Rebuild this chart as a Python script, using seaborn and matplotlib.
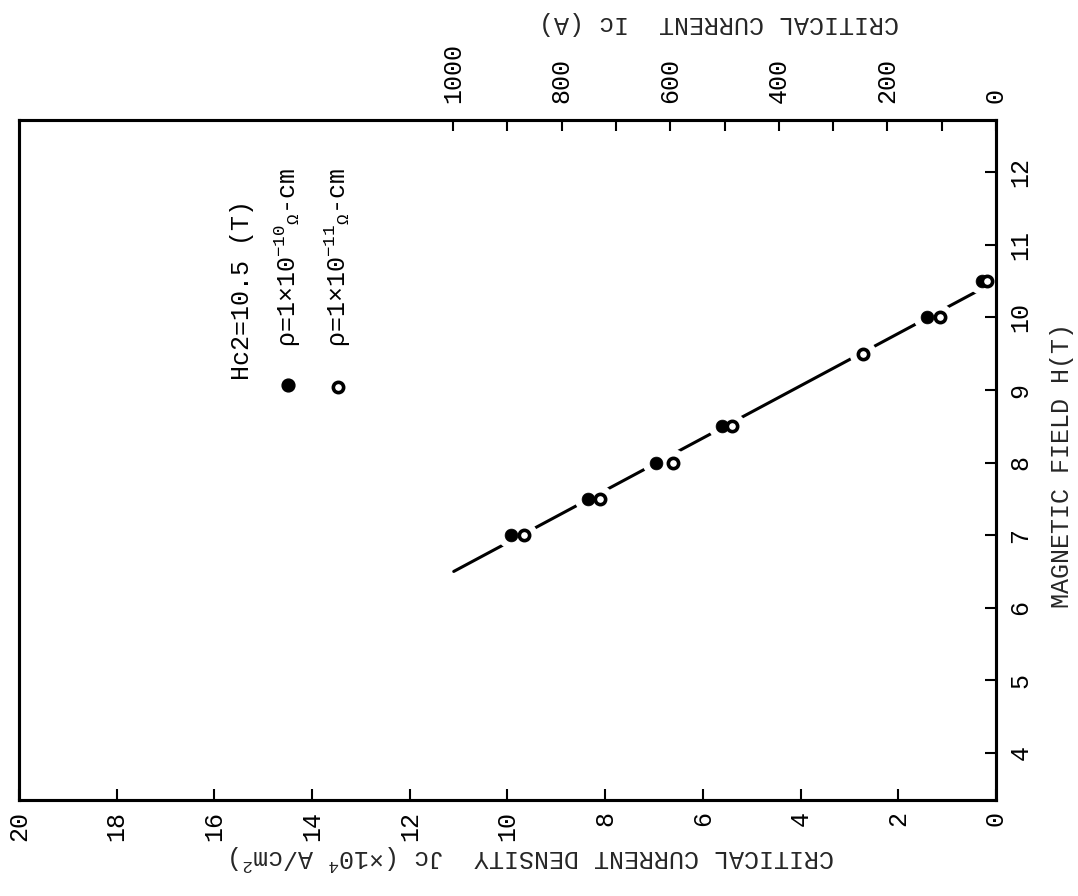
import matplotlib
matplotlib.use("Agg")
import matplotlib.pyplot as plt
import seaborn as sns

# --- DATA
h_filled = [7.0, 7.5, 8.0, 8.5, 10.0, 10.5]
jc_filled = [9.93, 8.35, 6.96, 5.61, 1.41, 0.29]

h_open = [7.0, 7.5, 8.0, 8.5, 9.5, 10.0, 10.5]
jc_open = [9.66, 8.11, 6.61, 5.40, 2.72, 1.15, 0.18]

fit_h = [6.5, 10.5]
fit_jc = [11.1, 0.0]

jc_ticks = list(range(0, 21, 2))
h_ticks = list(range(4, 13))
ic_ticks = list(range(0, 1001, 100))
ic_labels = [str(v) if v % 200 == 0 else "" for v in ic_ticks]
IC_PER_JC = 90  # A of Ic per 1e4 A/cm2 of Jc

label_jc = "CRITICAL CURRENT DENSITY  Jc (×10$^{4}$ A/cm$^{2}$)"
label_ic = "CRITICAL CURRENT  Ic (A)"
label_h = "MAGNETIC FIELD H(T)"
legend_title = "Hc2=10.5 (T)"
legend_filled = "ρ=1×10$^{-10}$$_{Ω}$-cm"
legend_open = "ρ=1×10$^{-11}$$_{Ω}$-cm"

# --- STYLE
sns.set_theme(style="white")
plt.rcParams["font.family"] = ["Liberation Mono", "DejaVu Sans Mono"]
plt.rcParams["mathtext.fontset"] = "custom"
plt.rcParams["mathtext.rm"] = "Liberation Mono"
plt.rcParams["mathtext.it"] = "Liberation Mono"
plt.rcParams["mathtext.bf"] = "Liberation Mono"
plt.rcParams["mathtext.default"] = "regular"
plt.rcParams["text.color"] = "black"
FS = 18

fig = plt.figure(figsize=(10.78, 8.96), dpi=100)
ax = fig.add_axes([0.0176, 0.1071, 0.9063, 0.7589])

# fit line, white halos to break it around the points, then the points
sns.lineplot(x=fit_jc, y=fit_h, sort=False, color="black", lw=2.2, ax=ax, zorder=2)
sns.scatterplot(x=jc_filled + jc_open, y=h_filled + h_open, s=380, color="white",
                edgecolor="none", ax=ax, zorder=2.1)
sns.scatterplot(x=jc_filled, y=h_filled, s=85, color="black", edgecolor="black",
                linewidth=0.5, ax=ax, zorder=3)
sns.scatterplot(x=jc_open, y=h_open, s=55, color="white", edgecolor="black",
                linewidth=2.6, ax=ax, zorder=3.1)

# axes: Jc runs right-to-left at the bottom, H on the right
ax.set_xlim(20, 0)
ax.set_ylim(3.35, 12.72)
ax.set_xticks(jc_ticks)
ax.set_yticks(h_ticks)
ax.yaxis.tick_right()
ax.yaxis.set_label_position("right")
ax.tick_params(axis="x", direction="in", length=8, width=1.5, labelsize=FS,
               labelrotation=90, pad=8, colors="black")
ax.tick_params(axis="y", direction="in", length=8, width=1.5, labelsize=FS,
               labelrotation=90, pad=9, colors="black", left=False, right=True)
for lab in ax.get_yticklabels():
    lab.set_va("center")

for sp in ax.spines.values():
    sp.set_color("black")
    sp.set_linewidth(2.2)

ax.set_xlabel(label_jc, fontsize=FS, rotation=180)
ax.xaxis.set_label_coords(0.525, -0.085)
ax.xaxis.label.set_va("center")
ax.set_ylabel(label_h, fontsize=FS, rotation=90)
ax.yaxis.set_label_coords(1.0676, 0.4926)
ax.yaxis.label.set_va("center")

# top axis: critical current Ic
ax2 = ax.twiny()
ax2.set_xlim(20 * IC_PER_JC, 0)
ax2.set_xticks(ic_ticks)
ax2.set_xticklabels(ic_labels)
ax2.tick_params(axis="x", direction="in", length=8, width=1.5, labelsize=FS,
                labelrotation=90, pad=12, colors="black")
ax2.set_xlabel(label_ic, fontsize=FS, rotation=180)
ax2.xaxis.set_label_coords(0.7165, 1.1426)
ax2.xaxis.label.set_va("center")
for sp in ax2.spines.values():
    sp.set_color("black")
    sp.set_linewidth(2.2)

# legend block, written sideways like the rest of the sheet
ax.text(0.228, 0.618, legend_title, transform=ax.transAxes, rotation=90,
        ha="center", va="bottom", fontsize=FS)
ax.scatter([0.275], [0.610], transform=ax.transAxes, s=85, color="black", zorder=3)
ax.text(0.275, 0.666, legend_filled, transform=ax.transAxes, rotation=90,
        ha="center", va="bottom", fontsize=FS)
ax.scatter([0.3265], [0.607], transform=ax.transAxes, s=55, color="white",
           edgecolor="black", linewidth=2.6, zorder=3)
ax.text(0.3265, 0.666, legend_open, transform=ax.transAxes, rotation=90,
        ha="center", va="bottom", fontsize=FS)

fig.savefig("out.png", dpi=100, facecolor="white")
